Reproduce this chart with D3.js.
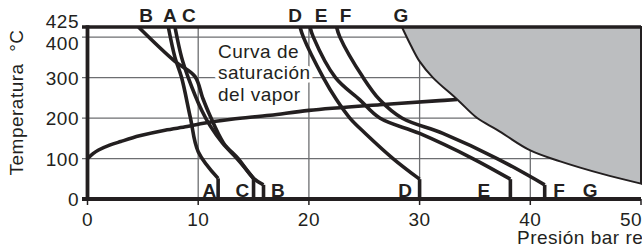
<!DOCTYPE html>
<html>
<head>
<meta charset="utf-8">
<script src="https://cdn.jsdelivr.net/npm/d3@7"></script>
<style>
  body { margin: 0; background: #fff; }
  text { font-family: "Liberation Sans", Arial, sans-serif; fill: #231f20; }
</style>
</head>
<body>
<script>
'use strict';

// axes
var pressureTicks = [0, 10, 20, 30, 40, 50];
var tempTicks     = [0, 100, 200, 300, 400, 425];
var gridTemps     = [100, 200, 300, 400];
var gridPressures = [10, 20, 30, 40];

// curves, [pressure bar, temperature °C], last point = foot on the axis
var curveA = [[7.3, 425], [7.9, 350], [8.5, 300], [9.3, 200], [10.0, 117], [11.8, 51], [11.8, 0]];
var curveB = [[4.6, 425], [7.9, 340], [9.7, 303], [10.4, 250], [11.0, 210], [12.3, 138], [13.6, 100], [15.0, 51], [15.9, 35], [15.9, 0]];
var curveC = [[7.9, 425], [8.5, 350], [9.1, 300], [10.3, 220], [11.1, 180], [12.2, 138], [13.5, 100], [15.0, 51], [15.0, 0]];
var curveD = [[19.2, 425], [19.5, 400], [21.3, 300], [22.5, 245], [23.7, 200], [25.1, 162], [27.6, 100], [30.0, 49], [30.0, 0]];
var curveE = [[20.1, 425], [20.4, 400], [22.4, 300], [24.6, 245], [26.4, 200], [30.0, 162], [34.8, 100], [38.2, 49], [38.2, 0]];
var curveF = [[22.5, 425], [22.8, 400], [24.9, 300], [26.4, 245], [28.4, 200], [32.1, 162], [37.0, 100], [41.3, 35], [41.3, 0]];

var saturation = [[0, 100], [0.5, 112], [1, 121], [2, 133], [3, 142], [4.7, 156], [7, 170], [9, 179], [10.2, 186],
                  [13, 197], [16.5, 207], [20, 219], [26.4, 233], [31.8, 243], [33.4, 246]];

var limitG = [[28.4, 425], [29.2, 380], [30, 340], [31.2, 300], [33.4, 246], [35.2, 200], [37, 171], [40, 120],
              [42.7, 93], [46.5, 62], [50, 38]];

var topLabels    = ['B', 'A', 'C', 'D', 'E', 'F', 'G'];
var topLabelP    = [5.3, 7.45, 9.15, 18.75, 21.1, 23.3, 28.3];
var bottomLabels = ['A', 'C', 'B', 'D', 'E', 'F', 'G'];
var bottomLabelP = [11.0, 14.0, 17.2, 28.7, 35.8, 42.6, 45.4];

var noteLines = ['Curva de', 'saturación', 'del vapor'];

var width  = 642;
var height = 247;
var ink    = '#231f20';
var grid   = '#6d6e71';

var svg = d3.select('body').append('svg')
    .attr('width', width)
    .attr('height', height);

var x = d3.scaleLinear().domain([0, 50]).range([87.5, 641]);
var y = d3.scaleLinear().domain([0, 425]).range([199, 27]);

// grid
svg.selectAll('.hgrid').data(gridTemps).enter().append('line')
  .attr('x1', x(0) - 5.5).attr('x2', x(50))
  .attr('y1', d => y(d)).attr('y2', d => y(d))
  .attr('stroke', grid).attr('stroke-width', 1.3);

svg.selectAll('.vgrid').data(gridPressures).enter().append('line')
  .attr('x1', d => x(d)).attr('x2', d => x(d))
  .attr('y1', y(0)).attr('y2', y(425))
  .attr('stroke', grid).attr('stroke-width', 1.3);

// note with white halo (covers grid behind it)
svg.append('g').selectAll('text').data(noteLines).enter().append('text')
  .attr('x', 218)
  .attr('y', (d, i) => 58 + i * 21.3)
  .attr('font-size', 19)
  .attr('letter-spacing', 0.5)
  .attr('stroke', '#fff').attr('stroke-width', 7)
  .attr('stroke-linejoin', 'round')
  .attr('paint-order', 'stroke')
  .text(d => d);

var smooth = d3.line().x(d => x(d[0])).y(d => y(d[1])).curve(d3.curveCatmullRom.alpha(0.5));
var straight = d3.line().x(d => x(d[0])).y(d => y(d[1]));

[curveA, curveB, curveC, curveD, curveE, curveF].forEach(function(pts) {
  svg.append('path')
    .attr('d', smooth(pts.slice(0, -1)))
    .attr('fill', 'none').attr('stroke', ink)
    .attr('stroke-width', 3.6).attr('stroke-linejoin', 'round');
  svg.append('path')
    .attr('d', straight(pts.slice(-2)))
    .attr('fill', 'none').attr('stroke', ink)
    .attr('stroke-width', 3.6);
});

svg.append('path')
  .attr('d', smooth(saturation))
  .attr('fill', 'none').attr('stroke', ink)
  .attr('stroke-width', 3.6);

// region G
svg.append('path')
  .attr('d', smooth(limitG) + 'L' + x(50) + ',' + y(425) + 'Z')
  .attr('fill', '#bcbec0')
  .attr('stroke', ink).attr('stroke-width', 2);

// frame
svg.append('line')
  .attr('x1', x(0) - 5.5).attr('x2', x(50))
  .attr('y1', y(425)).attr('y2', y(425))
  .attr('stroke', ink).attr('stroke-width', 3.6);
svg.append('line')
  .attr('x1', x(0) - 5.5).attr('x2', x(50))
  .attr('y1', y(0)).attr('y2', y(0))
  .attr('stroke', ink).attr('stroke-width', 3.8);
svg.append('line')
  .attr('x1', x(0)).attr('x2', x(0))
  .attr('y1', y(425) - 1.8).attr('y2', y(0) + 1.9)
  .attr('stroke', ink).attr('stroke-width', 3.8);

// x ticks
svg.selectAll('.xtick').data(pressureTicks).enter().append('line')
  .attr('x1', d => x(d)).attr('x2', d => x(d))
  .attr('y1', y(0)).attr('y2', y(0) + 6)
  .attr('stroke', ink).attr('stroke-width', 1.5);

svg.selectAll('.xlab').data(pressureTicks).enter().append('text')
  .attr('x', d => d === 50 ? x(d) - 10 : x(d))
  .attr('y', 226)
  .attr('text-anchor', 'middle')
  .attr('font-size', 19).attr('letter-spacing', 0.5)
  .text(d => d);

// y labels
function labelShift(t) { return t === 425 ? -6 : (t === 400 ? 6 : 0); }
svg.selectAll('.ylab').data(tempTicks).enter().append('text')
  .attr('x', 79)
  .attr('y', d => y(d) + 7 + labelShift(d))
  .attr('text-anchor', 'end')
  .attr('font-size', 19).attr('letter-spacing', 0.5)
  .text(d => d);

// curve letters
svg.selectAll('.toplab').data(topLabels).enter().append('text')
  .attr('x', (d, i) => x(topLabelP[i]))
  .attr('y', 22)
  .attr('text-anchor', 'middle')
  .attr('font-size', 19).attr('font-weight', 'bold')
  .text(d => d);

svg.selectAll('.botlab').data(bottomLabels).enter().append('text')
  .attr('x', (d, i) => x(bottomLabelP[i]))
  .attr('y', 197)
  .attr('text-anchor', 'middle')
  .attr('font-size', 19).attr('font-weight', 'bold')
  .text(d => d);

// axis titles
svg.append('text')
  .attr('transform', 'translate(23,102.5) rotate(-90)')
  .attr('text-anchor', 'middle')
  .attr('font-size', 19).attr('letter-spacing', 0.5)
  .text('Temperatura\u00a0\u00a0°C');

svg.append('text')
  .attr('x', 517).attr('y', 244)
  .attr('font-size', 19).attr('letter-spacing', 0.5)
  .text('Presión bar rel.');
</script>
</body>
</html>
